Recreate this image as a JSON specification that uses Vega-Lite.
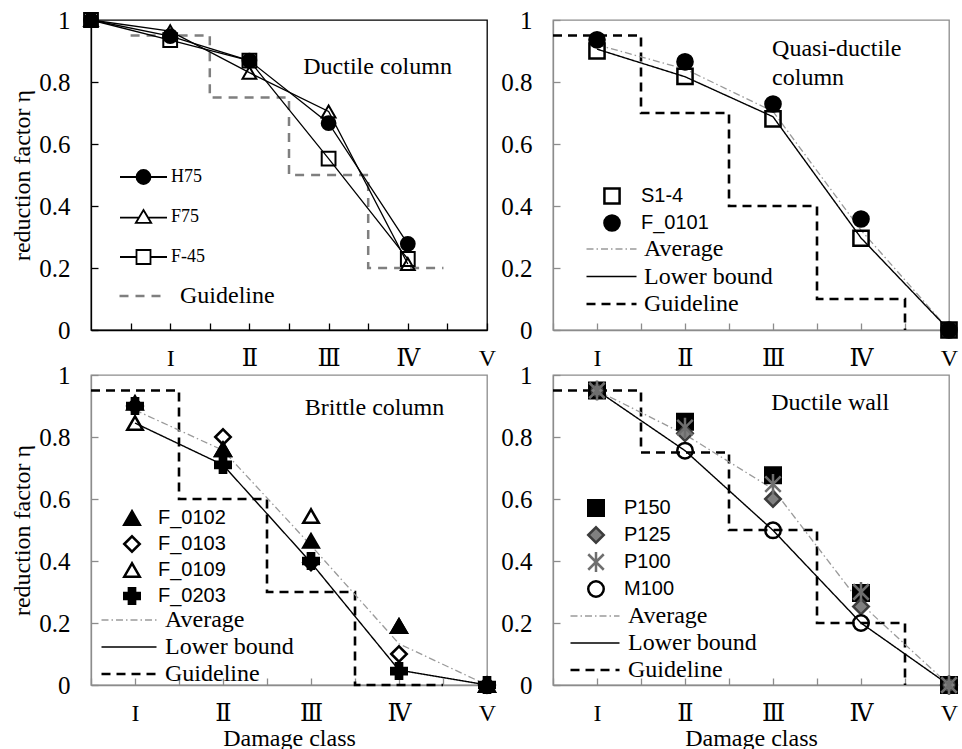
{
  "$schema": "https://vega.github.io/schema/vega-lite/v6.json",
  "padding": {"left": 10, "top": 7, "right": 5, "bottom": 0},
  "background": "white",
  "columns": 2,
  "spacing": {"row": 45, "column": 66},
  "bounds": "flush",
  "resolve": {"scale": {"shape": "independent", "fill": "independent", "stroke": "independent", "color": "independent", "strokeDash": "independent", "strokeWidth": "independent"}},
  "datasets": {
    "tl_pts": [
      {"specimen": "H75", "cls": 0, "eta": 1}, {"specimen": "H75", "cls": 1, "eta": 0.948}, {"specimen": "H75", "cls": 2, "eta": 0.869}, {"specimen": "H75", "cls": 3, "eta": 0.667}, {"specimen": "H75", "cls": 4, "eta": 0.278},
      {"specimen": "F75", "cls": 0, "eta": 1}, {"specimen": "F75", "cls": 1, "eta": 0.964}, {"specimen": "F75", "cls": 2, "eta": 0.83}, {"specimen": "F75", "cls": 3, "eta": 0.705}, {"specimen": "F75", "cls": 4, "eta": 0.213},
      {"specimen": "F-45", "cls": 0, "eta": 1}, {"specimen": "F-45", "cls": 1, "eta": 0.935}, {"specimen": "F-45", "cls": 2, "eta": 0.869}, {"specimen": "F-45", "cls": 3, "eta": 0.553}, {"specimen": "F-45", "cls": 4, "eta": 0.229}
    ],
    "tl_guide": [
      {"curve": "Guideline", "cls": 0.5, "eta": 0.95}, {"curve": "Guideline", "cls": 1.5, "eta": 0.75}, {"curve": "Guideline", "cls": 2.5, "eta": 0.5}, {"curve": "Guideline", "cls": 3.5, "eta": 0.2}, {"curve": "Guideline", "cls": 4.45, "eta": 0.2}
    ],
    "tr_pts": [
      {"specimen": "S1-4", "cls": 1, "eta": 0.9}, {"specimen": "S1-4", "cls": 2, "eta": 0.818}, {"specimen": "S1-4", "cls": 3, "eta": 0.681}, {"specimen": "S1-4", "cls": 4, "eta": 0.296}, {"specimen": "S1-4", "cls": 5, "eta": 0},
      {"specimen": "F_0101", "cls": 1, "eta": 0.936}, {"specimen": "F_0101", "cls": 2, "eta": 0.865}, {"specimen": "F_0101", "cls": 3, "eta": 0.729}, {"specimen": "F_0101", "cls": 4, "eta": 0.358}, {"specimen": "F_0101", "cls": 5, "eta": 0}
    ],
    "tr_lines": [
      {"curve": "Average", "cls": 1, "eta": 0.92}, {"curve": "Average", "cls": 2, "eta": 0.842}, {"curve": "Average", "cls": 3, "eta": 0.705}, {"curve": "Average", "cls": 4, "eta": 0.322}, {"curve": "Average", "cls": 5, "eta": 0},
      {"curve": "Lower bound", "cls": 1, "eta": 0.906}, {"curve": "Lower bound", "cls": 2, "eta": 0.817}, {"curve": "Lower bound", "cls": 3, "eta": 0.688}, {"curve": "Lower bound", "cls": 4, "eta": 0.297}, {"curve": "Lower bound", "cls": 5, "eta": 0},
      {"curve": "Guideline", "cls": 0.5, "eta": 0.95}, {"curve": "Guideline", "cls": 1.5, "eta": 0.7}, {"curve": "Guideline", "cls": 2.5, "eta": 0.4}, {"curve": "Guideline", "cls": 3.5, "eta": 0.1}, {"curve": "Guideline", "cls": 4.5, "eta": 0}
    ],
    "bl_pts": [
      {"specimen": "F_0102", "cls": 1, "eta": 0.91}, {"specimen": "F_0102", "cls": 2, "eta": 0.76}, {"specimen": "F_0102", "cls": 3, "eta": 0.465}, {"specimen": "F_0102", "cls": 4, "eta": 0.19}, {"specimen": "F_0102", "cls": 5, "eta": 0},
      {"specimen": "F_0103", "cls": 1, "eta": 0.9}, {"specimen": "F_0103", "cls": 2, "eta": 0.8}, {"specimen": "F_0103", "cls": 3, "eta": 0.395}, {"specimen": "F_0103", "cls": 4, "eta": 0.1}, {"specimen": "F_0103", "cls": 5, "eta": 0},
      {"specimen": "F_0109", "cls": 1, "eta": 0.845}, {"specimen": "F_0109", "cls": 2, "eta": 0.76}, {"specimen": "F_0109", "cls": 3, "eta": 0.545}, {"specimen": "F_0109", "cls": 4, "eta": 0.19}, {"specimen": "F_0109", "cls": 5, "eta": 0},
      {"specimen": "F_0203", "cls": 1, "eta": 0.9}, {"specimen": "F_0203", "cls": 2, "eta": 0.71}, {"specimen": "F_0203", "cls": 3, "eta": 0.4}, {"specimen": "F_0203", "cls": 4, "eta": 0.045}, {"specimen": "F_0203", "cls": 5, "eta": 0}
    ],
    "bl_lines": [
      {"curve": "Average", "cls": 1, "eta": 0.887}, {"curve": "Average", "cls": 2, "eta": 0.757}, {"curve": "Average", "cls": 3, "eta": 0.45}, {"curve": "Average", "cls": 4, "eta": 0.133}, {"curve": "Average", "cls": 5, "eta": 0},
      {"curve": "Lower bound", "cls": 1, "eta": 0.845}, {"curve": "Lower bound", "cls": 2, "eta": 0.71}, {"curve": "Lower bound", "cls": 3, "eta": 0.395}, {"curve": "Lower bound", "cls": 4, "eta": 0.048}, {"curve": "Lower bound", "cls": 5, "eta": 0},
      {"curve": "Guideline", "cls": 0.5, "eta": 0.95}, {"curve": "Guideline", "cls": 1.5, "eta": 0.6}, {"curve": "Guideline", "cls": 2.5, "eta": 0.3}, {"curve": "Guideline", "cls": 3.5, "eta": 0}, {"curve": "Guideline", "cls": 4.5, "eta": 0}
    ],
    "br_pts": [
      {"specimen": "P150", "cls": 1, "eta": 0.95}, {"specimen": "P150", "cls": 2, "eta": 0.849}, {"specimen": "P150", "cls": 3, "eta": 0.677}, {"specimen": "P150", "cls": 4, "eta": 0.297}, {"specimen": "P150", "cls": 5, "eta": 0},
      {"specimen": "P125", "cls": 1, "eta": 0.95}, {"specimen": "P125", "cls": 2, "eta": 0.812}, {"specimen": "P125", "cls": 3, "eta": 0.6}, {"specimen": "P125", "cls": 4, "eta": 0.253}, {"specimen": "P125", "cls": 5, "eta": 0},
      {"specimen": "M100", "cls": 1, "eta": 0.95}, {"specimen": "M100", "cls": 2, "eta": 0.756}, {"specimen": "M100", "cls": 3, "eta": 0.499}, {"specimen": "M100", "cls": 4, "eta": 0.2}, {"specimen": "M100", "cls": 5, "eta": 0},
      {"specimen": "P100", "cls": 1, "eta": 0.95}, {"specimen": "P100", "cls": 2, "eta": 0.83}, {"specimen": "P100", "cls": 3, "eta": 0.648}, {"specimen": "P100", "cls": 4, "eta": 0.3}, {"specimen": "P100", "cls": 5, "eta": 0}
    ],
    "br_lines": [
      {"curve": "Average", "cls": 1, "eta": 0.95}, {"curve": "Average", "cls": 2, "eta": 0.808}, {"curve": "Average", "cls": 3, "eta": 0.632}, {"curve": "Average", "cls": 4, "eta": 0.262}, {"curve": "Average", "cls": 5, "eta": 0},
      {"curve": "Lower bound", "cls": 1, "eta": 0.95}, {"curve": "Lower bound", "cls": 2, "eta": 0.756}, {"curve": "Lower bound", "cls": 3, "eta": 0.499}, {"curve": "Lower bound", "cls": 4, "eta": 0.2}, {"curve": "Lower bound", "cls": 5, "eta": 0},
      {"curve": "Guideline", "cls": 0.5, "eta": 0.95}, {"curve": "Guideline", "cls": 1.5, "eta": 0.75}, {"curve": "Guideline", "cls": 2.5, "eta": 0.5}, {"curve": "Guideline", "cls": 3.5, "eta": 0.2}, {"curve": "Guideline", "cls": 4.5, "eta": 0}
    ]
  },
  "concat": [
    {
      "width": 396, "height": 310,
      "view": {"stroke": "black", "strokeWidth": 1.3},
      "layer": [
        {
          "encoding": {
            "x": {"field": "cls", "type": "quantitative", "scale": {"domain": [0, 5], "nice": false, "zero": false},
              "axis": {"values": [0.5, 1, 1.5, 2, 2.5, 3, 3.5, 4, 4.5, 5], "labelExpr": "datum.value == 1 ? 'I' : datum.value == 2 ? 'Ⅱ' : datum.value == 3 ? 'Ⅲ' : datum.value == 4 ? 'Ⅳ' : datum.value == 5 ? 'V' : ''", "title": null, "labelFontSize": 24, "labelPadding": 23, "tickColor": "black", "domainColor": "black", "tickSize": -7}},
            "y": {"field": "eta", "type": "quantitative", "scale": {"domain": [0, 1], "nice": false},
              "axis": {"values": [0, 0.1, 0.2, 0.3, 0.4, 0.5, 0.6, 0.7, 0.8, 0.9, 1], "labelExpr": "round(datum.value * 10) % 2 == 0 ? format(datum.value, '~g') : ''", "title": "reduction factor η", "titlePadding": 4, "labelFontSize": 25, "labelPadding": 28, "tickColor": "black", "domainColor": "black", "tickSize": -7}}
          },
          "layer": [
            {"data": {"name": "tl_guide"}, "mark": {"type": "line", "interpolate": "step-after", "strokeDash": [9, 7], "strokeWidth": 2.5},
              "encoding": {"stroke": {"field": "curve", "type": "nominal", "scale": {"domain": ["Guideline"], "range": ["#7f7f7f"]},
                "legend": {"orient": "none", "legendX": 27, "legendY": 261, "title": null, "labelFont": "Liberation Serif", "labelFontSize": 24, "labelColor": "black", "symbolType": "stroke", "symbolSize": 2209, "symbolStrokeWidth": 2.5, "symbolDash": [9, 7], "clipHeight": 30, "labelOffset": 12, "padding": 0}}}},
            {"data": {"name": "tl_pts"}, "mark": {"type": "line", "color": "black", "strokeWidth": 1.3},
              "encoding": {"detail": {"field": "specimen", "type": "nominal"}}},
            {"data": {"name": "tl_pts"}, "mark": {"type": "point", "filled": true, "stroke": "black", "strokeWidth": 2, "size": 190, "opacity": 1},
              "encoding": {
                "shape": {"field": "specimen", "type": "nominal", "scale": {"domain": ["H75", "F75", "F-45"], "range": ["circle", "triangle-up", "square"]}, "legend": null},
                "fill": {"field": "specimen", "type": "nominal", "scale": {"domain": ["H75", "F75", "F-45"], "range": ["black", "transparent", "transparent"]}, "legend": null}}},
            {"data": {"name": "tl_pts"}, "mark": {"type": "point", "filled": true, "stroke": "black", "strokeWidth": 1.8, "size": 196, "opacity": 0},
              "encoding": {
                "shape": {"field": "specimen", "type": "nominal", "scale": {"domain": ["H75", "F75", "F-45"], "range": ["M-1,0H1.357M3.357,0H5.714M1.357,0A1,1,0,1,1,3.357,0A1,1,0,1,1,1.357,0Z", "M-1,0.1H1.703M3.011,0.1H5.714M2.357,-1L3.457,0.85L1.257,0.85Z", "M-1,0H1.357M3.357,0H5.714M1.357,-1H3.357V1H1.357Z"]},
                  "legend": {"orient": "none", "legendX": 27, "legendY": 137, "title": null, "labelFont": "Liberation Serif", "labelFontSize": 18, "labelColor": "black", "symbolSize": 196, "symbolStrokeWidth": 1.8, "symbolOpacity": 1, "clipHeight": 40, "rowPadding": 0, "labelOffset": 35, "padding": 0}},
                "fill": {"field": "specimen", "type": "nominal", "scale": {"domain": ["H75", "F75", "F-45"], "range": ["black", "transparent", "transparent"]},
                  "legend": {"orient": "none", "legendX": 27, "legendY": 137, "title": null, "labelFont": "Liberation Serif", "labelFontSize": 18, "labelColor": "black", "symbolSize": 196, "symbolStrokeWidth": 1.8, "symbolOpacity": 1, "clipHeight": 40, "rowPadding": 0, "labelOffset": 35, "padding": 0}}}}
          ],
          "resolve": {"scale": {"shape": "independent", "fill": "independent"}}
        },
        {"data": {"values": [{}]}, "mark": {"type": "text", "font": "Liberation Serif", "fontSize": 24, "align": "left", "baseline": "middle", "color": "black"},
          "encoding": {"x": {"datum": 2.68, "type": "quantitative"}, "y": {"datum": 0.848, "type": "quantitative"}, "text": {"value": "Ductile column"}}}
      ]
    },
    {
      "width": 396, "height": 310,
      "view": {"stroke": "#8c8c8c", "strokeWidth": 1.3},
      "layer": [
        {
          "encoding": {
            "x": {"field": "cls", "type": "quantitative", "scale": {"domain": [0.5, 5], "nice": false, "zero": false},
              "axis": {"values": [0.5, 1, 1.5, 2, 2.5, 3, 3.5, 4, 4.5, 5], "labelExpr": "datum.value == 1 ? 'I' : datum.value == 2 ? 'Ⅱ' : datum.value == 3 ? 'Ⅲ' : datum.value == 4 ? 'Ⅳ' : datum.value == 5 ? 'V' : ''", "title": null, "labelFontSize": 24, "labelPadding": 23, "tickColor": "#8c8c8c", "domainColor": "#8c8c8c", "tickSize": -7}},
            "y": {"field": "eta", "type": "quantitative", "scale": {"domain": [0, 1], "nice": false},
              "axis": {"values": [0, 0.2, 0.4, 0.6, 0.8, 1], "labelExpr": "format(datum.value, '~g')", "title": null, "labelFontSize": 25, "labelPadding": 28, "tickColor": "#8c8c8c", "domainColor": "#8c8c8c", "tickSize": -7}}
          },
          "layer": [
            {"data": {"name": "tr_lines"}, "layer": [
              {"transform": [{"filter": "datum.curve == 'Guideline'"}], "mark": {"type": "line", "interpolate": "step-after"},
                "encoding": {
                  "stroke": {"field": "curve", "type": "nominal", "scale": {"domain": ["Average", "Lower bound", "Guideline"], "range": ["#9a9a9a", "black", "black"]}, "legend": {"orient": "none", "legendX": 32, "legendY": 215.5, "title": null, "labelFont": "Liberation Serif", "labelFontSize": 24, "labelColor": "black", "symbolType": "stroke", "symbolSize": 2500, "clipHeight": 27, "rowPadding": 0.5, "labelOffset": 6, "padding": 0}},
                  "strokeDash": {"field": "curve", "type": "nominal", "scale": {"domain": ["Average", "Lower bound", "Guideline"], "range": [[7, 3, 1.5, 3], [1, 0], [9, 6]]}, "legend": {"orient": "none", "legendX": 32, "legendY": 215.5, "title": null, "labelFont": "Liberation Serif", "labelFontSize": 24, "labelColor": "black", "symbolType": "stroke", "symbolSize": 2500, "clipHeight": 27, "rowPadding": 0.5, "labelOffset": 6, "padding": 0}},
                  "strokeWidth": {"field": "curve", "type": "nominal", "scale": {"type": "ordinal", "domain": ["Average", "Lower bound", "Guideline"], "range": [1.3, 1.4, 2.6]}, "legend": {"orient": "none", "legendX": 32, "legendY": 215.5, "title": null, "labelFont": "Liberation Serif", "labelFontSize": 24, "labelColor": "black", "symbolType": "stroke", "symbolSize": 2500, "clipHeight": 27, "rowPadding": 0.5, "labelOffset": 6, "padding": 0}}}},
              {"transform": [{"filter": "datum.curve != 'Guideline'"}], "mark": {"type": "line"},
                "encoding": {
                  "stroke": {"field": "curve", "type": "nominal", "scale": {"domain": ["Average", "Lower bound", "Guideline"], "range": ["#9a9a9a", "black", "black"]}, "legend": {"orient": "none", "legendX": 32, "legendY": 215.5, "title": null, "labelFont": "Liberation Serif", "labelFontSize": 24, "labelColor": "black", "symbolType": "stroke", "symbolSize": 2500, "clipHeight": 27, "rowPadding": 0.5, "labelOffset": 6, "padding": 0}},
                  "strokeDash": {"field": "curve", "type": "nominal", "scale": {"domain": ["Average", "Lower bound", "Guideline"], "range": [[7, 3, 1.5, 3], [1, 0], [9, 6]]}, "legend": {"orient": "none", "legendX": 32, "legendY": 215.5, "title": null, "labelFont": "Liberation Serif", "labelFontSize": 24, "labelColor": "black", "symbolType": "stroke", "symbolSize": 2500, "clipHeight": 27, "rowPadding": 0.5, "labelOffset": 6, "padding": 0}},
                  "strokeWidth": {"field": "curve", "type": "nominal", "scale": {"type": "ordinal", "domain": ["Average", "Lower bound", "Guideline"], "range": [1.3, 1.4, 2.6]}, "legend": {"orient": "none", "legendX": 32, "legendY": 215.5, "title": null, "labelFont": "Liberation Serif", "labelFontSize": 24, "labelColor": "black", "symbolType": "stroke", "symbolSize": 2500, "clipHeight": 27, "rowPadding": 0.5, "labelOffset": 6, "padding": 0}}}}
            ]},
            {"data": {"name": "tr_pts"}, "mark": {"type": "point", "filled": true, "stroke": "black", "strokeWidth": 2.5, "size": 230, "opacity": 1},
              "encoding": {
                "shape": {"field": "specimen", "type": "nominal", "scale": {"domain": ["S1-4", "F_0101"], "range": ["square", "circle"]}, "legend": {"orient": "none", "legendX": 49, "legendY": 162.5, "title": null, "labelFont": "Liberation Sans", "labelFontSize": 20, "labelColor": "black", "symbolSize": 230, "symbolStrokeWidth": 2.5, "clipHeight": 27, "rowPadding": 0, "labelOffset": 19, "padding": 0}},
                "fill": {"field": "specimen", "type": "nominal", "scale": {"domain": ["S1-4", "F_0101"], "range": ["transparent", "black"]}, "legend": {"orient": "none", "legendX": 49, "legendY": 162.5, "title": null, "labelFont": "Liberation Sans", "labelFontSize": 20, "labelColor": "black", "symbolSize": 230, "symbolStrokeWidth": 2.5, "clipHeight": 27, "rowPadding": 0, "labelOffset": 19, "padding": 0}}}}
          ]
        },
        {"data": {"values": [{}]}, "mark": {"type": "text", "font": "Liberation Serif", "fontSize": 24, "align": "left", "baseline": "top", "lineBreak": "\n", "lineHeight": 29, "color": "black"},
          "encoding": {"x": {"datum": 2.99, "type": "quantitative"}, "y": {"datum": 0.945, "type": "quantitative"}, "text": {"value": "Quasi-ductile\ncolumn"}}}
      ]
    },
    {
      "width": 396, "height": 310,
      "view": {"stroke": "#8c8c8c", "strokeWidth": 1.3},
      "layer": [
        {
          "encoding": {
            "x": {"field": "cls", "type": "quantitative", "scale": {"domain": [0.5, 5], "nice": false, "zero": false},
              "axis": {"values": [0.5, 1, 1.5, 2, 2.5, 3, 3.5, 4, 4.5, 5], "labelExpr": "datum.value == 1 ? 'I' : datum.value == 2 ? 'Ⅱ' : datum.value == 3 ? 'Ⅲ' : datum.value == 4 ? 'Ⅳ' : datum.value == 5 ? 'V' : ''", "title": "Damage class", "titlePadding": 1, "labelFontSize": 24, "labelPadding": 23, "tickColor": "#8c8c8c", "domainColor": "#8c8c8c", "tickSize": -7}},
            "y": {"field": "eta", "type": "quantitative", "scale": {"domain": [0, 1], "nice": false},
              "axis": {"values": [0, 0.2, 0.4, 0.6, 0.8, 1], "labelExpr": "format(datum.value, '~g')", "title": "reduction factor η", "titlePadding": 4, "labelFontSize": 25, "labelPadding": 28, "tickColor": "#8c8c8c", "domainColor": "#8c8c8c", "tickSize": -7}}
          },
          "layer": [
            {"data": {"name": "bl_lines"}, "layer": [
              {"transform": [{"filter": "datum.curve == 'Guideline'"}], "mark": {"type": "line", "interpolate": "step-after"},
                "encoding": {
                  "stroke": {"field": "curve", "type": "nominal", "scale": {"domain": ["Average", "Lower bound", "Guideline"], "range": ["#9a9a9a", "black", "black"]}, "legend": {"orient": "none", "legendX": 9, "legendY": 231.5, "title": null, "labelFont": "Liberation Serif", "labelFontSize": 24, "labelColor": "black", "symbolType": "stroke", "symbolSize": 3025, "clipHeight": 27, "rowPadding": 0, "labelOffset": 7, "padding": 0}},
                  "strokeDash": {"field": "curve", "type": "nominal", "scale": {"domain": ["Average", "Lower bound", "Guideline"], "range": [[7, 3, 1.5, 3], [1, 0], [9, 6]]}, "legend": {"orient": "none", "legendX": 9, "legendY": 231.5, "title": null, "labelFont": "Liberation Serif", "labelFontSize": 24, "labelColor": "black", "symbolType": "stroke", "symbolSize": 3025, "clipHeight": 27, "rowPadding": 0, "labelOffset": 7, "padding": 0}},
                  "strokeWidth": {"field": "curve", "type": "nominal", "scale": {"type": "ordinal", "domain": ["Average", "Lower bound", "Guideline"], "range": [1.3, 1.4, 2.6]}, "legend": {"orient": "none", "legendX": 9, "legendY": 231.5, "title": null, "labelFont": "Liberation Serif", "labelFontSize": 24, "labelColor": "black", "symbolType": "stroke", "symbolSize": 3025, "clipHeight": 27, "rowPadding": 0, "labelOffset": 7, "padding": 0}}}},
              {"transform": [{"filter": "datum.curve != 'Guideline'"}], "mark": {"type": "line"},
                "encoding": {
                  "stroke": {"field": "curve", "type": "nominal", "scale": {"domain": ["Average", "Lower bound", "Guideline"], "range": ["#9a9a9a", "black", "black"]}, "legend": {"orient": "none", "legendX": 9, "legendY": 231.5, "title": null, "labelFont": "Liberation Serif", "labelFontSize": 24, "labelColor": "black", "symbolType": "stroke", "symbolSize": 3025, "clipHeight": 27, "rowPadding": 0, "labelOffset": 7, "padding": 0}},
                  "strokeDash": {"field": "curve", "type": "nominal", "scale": {"domain": ["Average", "Lower bound", "Guideline"], "range": [[7, 3, 1.5, 3], [1, 0], [9, 6]]}, "legend": {"orient": "none", "legendX": 9, "legendY": 231.5, "title": null, "labelFont": "Liberation Serif", "labelFontSize": 24, "labelColor": "black", "symbolType": "stroke", "symbolSize": 3025, "clipHeight": 27, "rowPadding": 0, "labelOffset": 7, "padding": 0}},
                  "strokeWidth": {"field": "curve", "type": "nominal", "scale": {"type": "ordinal", "domain": ["Average", "Lower bound", "Guideline"], "range": [1.3, 1.4, 2.6]}, "legend": {"orient": "none", "legendX": 9, "legendY": 231.5, "title": null, "labelFont": "Liberation Serif", "labelFontSize": 24, "labelColor": "black", "symbolType": "stroke", "symbolSize": 3025, "clipHeight": 27, "rowPadding": 0, "labelOffset": 7, "padding": 0}}}}
            ]},
            {"data": {"name": "bl_pts"}, "mark": {"type": "point", "filled": true, "stroke": "black", "strokeWidth": 2.5, "size": 240, "opacity": 1},
              "encoding": {
                "shape": {"field": "specimen", "type": "nominal", "scale": {"domain": ["F_0102", "F_0103", "F_0109", "F_0203"], "range": ["triangle-up", "diamond", "triangle-up", "cross"]}, "legend": {"orient": "none", "legendX": 31, "legendY": 130, "title": null, "labelFont": "Liberation Sans", "labelFontSize": 20, "labelColor": "black", "symbolSize": 240, "symbolStrokeWidth": 2.5, "clipHeight": 26, "rowPadding": 0, "labelOffset": 16, "padding": 0}},
                "fill": {"field": "specimen", "type": "nominal", "scale": {"domain": ["F_0102", "F_0103", "F_0109", "F_0203"], "range": ["black", "transparent", "transparent", "black"]}, "legend": {"orient": "none", "legendX": 31, "legendY": 130, "title": null, "labelFont": "Liberation Sans", "labelFontSize": 20, "labelColor": "black", "symbolSize": 240, "symbolStrokeWidth": 2.5, "clipHeight": 26, "rowPadding": 0, "labelOffset": 16, "padding": 0}}}}
          ]
        },
        {"data": {"values": [{}]}, "mark": {"type": "text", "font": "Liberation Serif", "fontSize": 24, "align": "left", "baseline": "middle", "color": "black"},
          "encoding": {"x": {"datum": 2.93, "type": "quantitative"}, "y": {"datum": 0.894, "type": "quantitative"}, "text": {"value": "Brittle column"}}}
      ]
    },
    {
      "width": 396, "height": 310,
      "view": {"stroke": "#8c8c8c", "strokeWidth": 1.3},
      "layer": [
        {
          "encoding": {
            "x": {"field": "cls", "type": "quantitative", "scale": {"domain": [0.5, 5], "nice": false, "zero": false},
              "axis": {"values": [0.5, 1, 1.5, 2, 2.5, 3, 3.5, 4, 4.5, 5], "labelExpr": "datum.value == 1 ? 'I' : datum.value == 2 ? 'Ⅱ' : datum.value == 3 ? 'Ⅲ' : datum.value == 4 ? 'Ⅳ' : datum.value == 5 ? 'V' : ''", "title": "Damage class", "titlePadding": 1, "labelFontSize": 24, "labelPadding": 23, "tickColor": "#8c8c8c", "domainColor": "#8c8c8c", "tickSize": -7}},
            "y": {"field": "eta", "type": "quantitative", "scale": {"domain": [0, 1], "nice": false},
              "axis": {"values": [0, 0.2, 0.4, 0.6, 0.8, 1], "labelExpr": "format(datum.value, '~g')", "title": null, "labelFontSize": 25, "labelPadding": 28, "tickColor": "#8c8c8c", "domainColor": "#8c8c8c", "tickSize": -7}}
          },
          "layer": [
            {"data": {"name": "br_lines"}, "layer": [
              {"transform": [{"filter": "datum.curve == 'Guideline'"}], "mark": {"type": "line", "interpolate": "step-after"},
                "encoding": {
                  "color": {"field": "curve", "type": "nominal", "scale": {"domain": ["Average", "Lower bound", "Guideline"], "range": ["#9a9a9a", "black", "black"]}, "legend": {"orient": "none", "legendX": 16, "legendY": 227.75, "title": null, "labelFont": "Liberation Serif", "labelFontSize": 24, "labelColor": "black", "symbolType": "stroke", "symbolSize": 2401, "clipHeight": 26.5, "rowPadding": 0, "labelOffset": 7, "padding": 0}},
                  "strokeDash": {"field": "curve", "type": "nominal", "scale": {"domain": ["Average", "Lower bound", "Guideline"], "range": [[7, 3, 1.5, 3], [1, 0], [9, 6]]}, "legend": {"orient": "none", "legendX": 16, "legendY": 227.75, "title": null, "labelFont": "Liberation Serif", "labelFontSize": 24, "labelColor": "black", "symbolType": "stroke", "symbolSize": 2401, "clipHeight": 26.5, "rowPadding": 0, "labelOffset": 7, "padding": 0}},
                  "strokeWidth": {"field": "curve", "type": "nominal", "scale": {"type": "ordinal", "domain": ["Average", "Lower bound", "Guideline"], "range": [1.3, 1.4, 2.6]}, "legend": {"orient": "none", "legendX": 16, "legendY": 227.75, "title": null, "labelFont": "Liberation Serif", "labelFontSize": 24, "labelColor": "black", "symbolType": "stroke", "symbolSize": 2401, "clipHeight": 26.5, "rowPadding": 0, "labelOffset": 7, "padding": 0}}}},
              {"transform": [{"filter": "datum.curve != 'Guideline'"}], "mark": {"type": "line"},
                "encoding": {
                  "color": {"field": "curve", "type": "nominal", "scale": {"domain": ["Average", "Lower bound", "Guideline"], "range": ["#9a9a9a", "black", "black"]}, "legend": {"orient": "none", "legendX": 16, "legendY": 227.75, "title": null, "labelFont": "Liberation Serif", "labelFontSize": 24, "labelColor": "black", "symbolType": "stroke", "symbolSize": 2401, "clipHeight": 26.5, "rowPadding": 0, "labelOffset": 7, "padding": 0}},
                  "strokeDash": {"field": "curve", "type": "nominal", "scale": {"domain": ["Average", "Lower bound", "Guideline"], "range": [[7, 3, 1.5, 3], [1, 0], [9, 6]]}, "legend": {"orient": "none", "legendX": 16, "legendY": 227.75, "title": null, "labelFont": "Liberation Serif", "labelFontSize": 24, "labelColor": "black", "symbolType": "stroke", "symbolSize": 2401, "clipHeight": 26.5, "rowPadding": 0, "labelOffset": 7, "padding": 0}},
                  "strokeWidth": {"field": "curve", "type": "nominal", "scale": {"type": "ordinal", "domain": ["Average", "Lower bound", "Guideline"], "range": [1.3, 1.4, 2.6]}, "legend": {"orient": "none", "legendX": 16, "legendY": 227.75, "title": null, "labelFont": "Liberation Serif", "labelFontSize": 24, "labelColor": "black", "symbolType": "stroke", "symbolSize": 2401, "clipHeight": 26.5, "rowPadding": 0, "labelOffset": 7, "padding": 0}}}}
            ]},
            {"data": {"name": "br_pts"}, "mark": {"type": "point", "filled": true, "strokeWidth": 2.5, "size": 240, "opacity": 1},
              "encoding": {
                "shape": {"field": "specimen", "type": "nominal", "scale": {"domain": ["P150", "P125", "P100", "M100"], "range": ["square", "diamond", "M-1,-1L1,1M-1,1L1,-1M0,-1.3L0,1.3", "circle"]}, "legend": {"orient": "none", "legendX": 33, "legendY": 119.5, "title": null, "labelFont": "Liberation Sans", "labelFontSize": 20, "labelColor": "black", "symbolSize": 240, "symbolStrokeWidth": 2.5, "clipHeight": 27, "rowPadding": 0, "labelOffset": 18, "padding": 0}},
                "fill": {"field": "specimen", "type": "nominal", "scale": {"domain": ["P150", "P125", "P100", "M100"], "range": ["black", "#808080", "transparent", "transparent"]}, "legend": {"orient": "none", "legendX": 33, "legendY": 119.5, "title": null, "labelFont": "Liberation Sans", "labelFontSize": 20, "labelColor": "black", "symbolSize": 240, "symbolStrokeWidth": 2.5, "clipHeight": 27, "rowPadding": 0, "labelOffset": 18, "padding": 0}},
                "stroke": {"field": "specimen", "type": "nominal", "scale": {"domain": ["P150", "P125", "P100", "M100"], "range": ["black", "#3c3c3c", "#6e6e6e", "black"]}, "legend": {"orient": "none", "legendX": 33, "legendY": 119.5, "title": null, "labelFont": "Liberation Sans", "labelFontSize": 20, "labelColor": "black", "symbolSize": 240, "symbolStrokeWidth": 2.5, "clipHeight": 27, "rowPadding": 0, "labelOffset": 18, "padding": 0}}}}
          ]
        },
        {"data": {"values": [{}]}, "mark": {"type": "text", "font": "Liberation Serif", "fontSize": 24, "align": "left", "baseline": "middle", "color": "black"},
          "encoding": {"x": {"datum": 2.98, "type": "quantitative"}, "y": {"datum": 0.91, "type": "quantitative"}, "text": {"value": "Ductile wall"}}}
      ]
    }
  ],
  "config": {
    "font": "Liberation Serif",
    "axis": {"labelFont": "Liberation Serif, DejaVu Serif", "titleFont": "Liberation Serif", "titleFontSize": 24, "titleFontWeight": "normal", "labelColor": "black", "titleColor": "black", "grid": false, "labelFlush": false, "labelOverlap": false, "domainWidth": 1.3, "tickWidth": 1.3},
    "legend": {"titlePadding": 0}
  }
}
